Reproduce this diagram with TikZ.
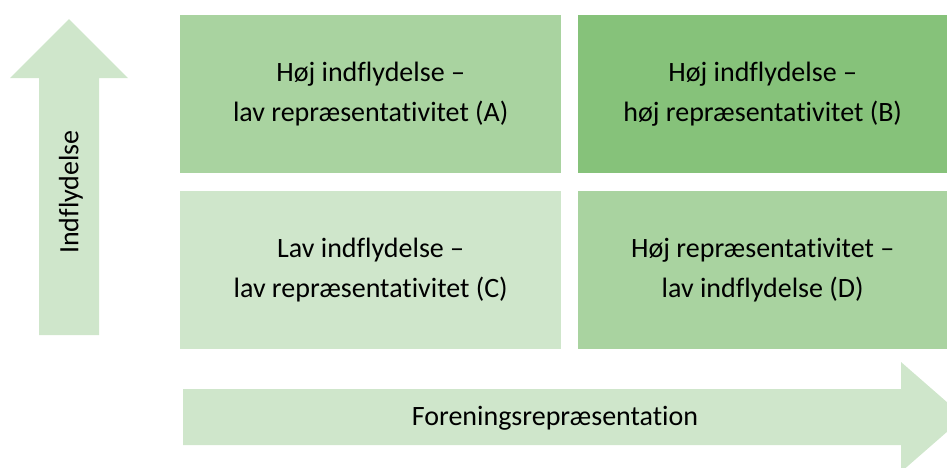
\documentclass[tikz,border=0pt]{standalone}
\usepackage{fontspec}
\setmainfont{Carlito}[RawFeature={-liga}]
\usetikzlibrary{positioning}

\definecolor{lightgrn}{HTML}{CFE6CB}
\definecolor{midgrn}{HTML}{A9D3A0}
\definecolor{darkgrn}{HTML}{86C27A}

\begin{document}
\begin{tikzpicture}[x=1pt,y=-1pt,
                    box/.style={draw=none,minimum width=381pt,minimum height=158pt,
                                align=center,inner sep=0pt,font=\fontsize{28}{40}\selectfont},
                    label text/.style={inner sep=0pt,font=\fontsize{28}{34}\selectfont}]
  \useasboundingbox (0,0) rectangle (947,467);
  % arrows
  \fill[lightgrn] (39,335) -- (39,78) -- (10,78) -- (69,19) -- (128,78) -- (99,78) -- (99,335) -- cycle;
  \fill[lightgrn] (183,389) -- (901,389) -- (901,362) -- (964,417) -- (901,472) -- (901,445) -- (183,445) -- cycle;
  % quadrants
  \node[box,fill=midgrn,anchor=north west] (A) at (180,15) {Høj indflydelse –\\lav repræsentativitet (A)};
  \node[box,fill=darkgrn,anchor=north west,minimum width=369pt] (B) at (578,15) {Høj indflydelse –\\høj repræsentativitet (B)};
  \node[box,fill=lightgrn,anchor=north west] (C) at (180,191) {Lav indflydelse –\\lav repræsentativitet (C)};
  \node[box,fill=midgrn,anchor=north west,minimum width=369pt] (D) at (578,191) {Høj repræsentativitet –\\lav indflydelse (D)};
  % axis texts
  \node[label text,rotate=90] (yaxis) at (71,192) {Indflydelse};
  \node[label text] (xaxis) at (555,418) {Foreningsrepræsentation};
\end{tikzpicture}
\end{document}
